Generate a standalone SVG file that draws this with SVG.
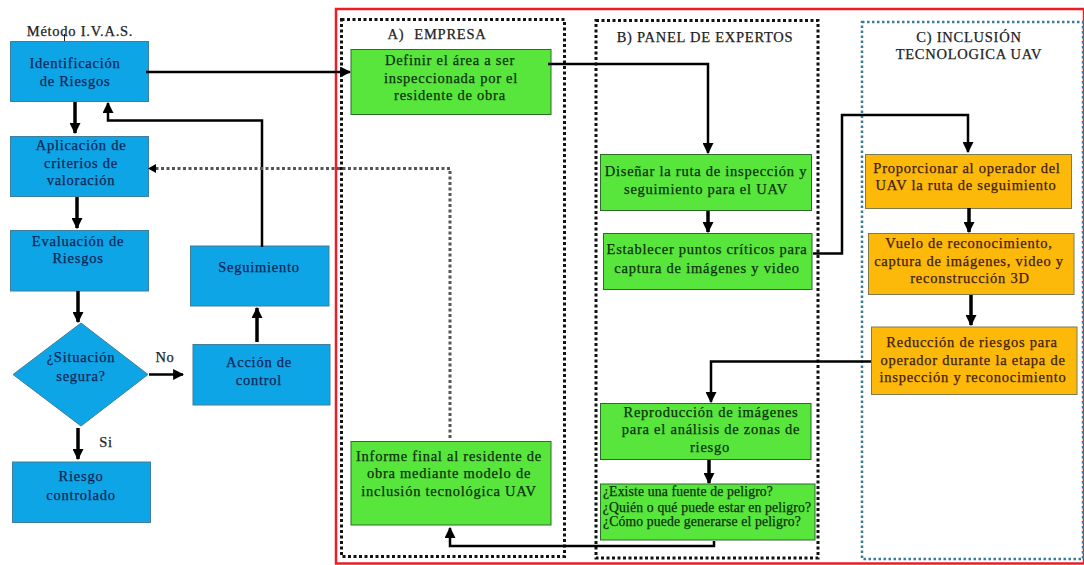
<svg xmlns="http://www.w3.org/2000/svg" width="1084" height="565" viewBox="0 0 1084 565">
<style>
text{font-family:"Liberation Serif","Times New Roman",serif;font-size:14.500px;text-anchor:middle;letter-spacing:.75px;stroke-width:.25px}
.blue rect,.blue polygon{fill:#0ea5e6;stroke:#3f7f9c;stroke-width:1}
.blue text{fill:#0c2558;stroke:#0c2558}
.green rect{fill:#58e63c;stroke:#2e6b2a;stroke-width:1}
.green text{fill:#0c300c;stroke:#0c300c}
.orange rect{fill:#fdb90a;stroke:#7c7c50;stroke-width:1}
.orange text{fill:#40200a;stroke:#40200a}
.label{fill:#222;stroke:#222}
.c{fill:none;stroke:#000;stroke-width:2.500}
.t{stroke-width:3.500}
.dot{fill:none;stroke:#111;stroke-width:3;stroke-dasharray:3 2.500}
.small{font-size:13.700px;letter-spacing:.15px}
</style>
<defs>
<marker id="a" viewBox="0 0 10 10" refX="9" refY="5" markerWidth="11" markerHeight="11" markerUnits="userSpaceOnUse" orient="auto"><path d="M0 0L10 5L0 10Z" fill="#000"/></marker>
</defs>
<rect width="1084" height="565" fill="#fff"/>
<g id="frames">
<rect x="336" y="9" width="748" height="554.500" fill="none" stroke="#ee1c25" stroke-width="2.500"/>
<rect class="dot" x="341.500" y="19.500" width="223" height="537"/>
<rect class="dot" x="596" y="20.500" width="222" height="537.500"/>
<rect x="862" y="22" width="221" height="537" fill="none" stroke="#3a7c9a" stroke-width="2.500" stroke-dasharray="2.500 2.500"/>
</g>
<g id="title"><text class="label" x="80" y="36">Método I.V.A.S.</text><path d="M64.500 34V41" stroke="#222" fill="none"/></g>
<g id="n1" class="blue"><rect x="10.500" y="41.500" width="138" height="60"/><text x="75" y="68">Identificación</text><text x="75" y="86">de Riesgos</text></g>
<g id="n2" class="blue"><rect x="10.500" y="136.500" width="138" height="60"/><text x="81" y="150">Aplicación de</text><text x="81" y="168">criterios de</text><text x="81" y="185">valoración</text></g>
<g id="n3" class="blue"><rect x="10.500" y="230.500" width="138" height="60.500"/><text x="78" y="246">Evaluación de</text><text x="78" y="263">Riesgos</text></g>
<g id="n4" class="blue"><polygon points="13,374.500 81,323 148,374.500 81,426"/><text x="81" y="362">¿Situación</text><text x="81" y="381">segura?</text></g>
<g id="n5" class="blue"><rect x="12.500" y="462" width="138" height="60.500"/><text x="81" y="481">Riesgo</text><text x="81" y="500">controlado</text></g>
<g id="n6" class="blue"><rect x="190.500" y="246" width="138.500" height="60"/><text x="259" y="272">Seguimiento</text></g>
<g id="n7" class="blue"><rect x="193" y="344.500" width="137" height="60.500"/><text x="259" y="367">Acción de</text><text x="259" y="385">control</text></g>
<g id="lbls"><text class="label" x="165" y="362">No</text><text class="label" x="106" y="447">Si</text><text class="label" x="437" y="39">A)<tspan dx="10">EMPRESA</tspan></text><text class="label" x="705" y="42">B) PANEL DE EXPERTOS</text><text class="label" x="969" y="42">C) INCLUSIÓN</text><text class="label" x="969" y="59">TECNOLOGICA UAV</text></g>
<g id="g1" class="green"><rect x="351" y="49.500" width="200" height="65"/><text x="450" y="65">Definir el área a ser</text><text x="451" y="83">inspeccionada por el</text><text x="450" y="100">residente de obra</text></g>
<g id="g2" class="green"><rect x="600.500" y="154.500" width="211" height="56"/><text x="706" y="176">Diseñar la ruta de inspección y</text><text x="706" y="194">seguimiento para el UAV</text></g>
<g id="g3" class="green"><rect x="603.500" y="233.500" width="208.500" height="56"/><text x="707" y="254">Establecer puntos críticos para</text><text x="707" y="273">captura de imágenes y video</text></g>
<g id="g4" class="green"><rect x="600.500" y="403.500" width="210.500" height="56"/><text x="711" y="417">Reproducción de imágenes</text><text x="711" y="434">para el análisis de zonas de</text><text x="710" y="452">riesgo</text></g>
<g id="g5" class="green"><rect x="600.500" y="484" width="214.500" height="56"/><text class="small" x="688" y="496">¿Existe una fuente de peligro?</text><text class="small" x="707" y="512">¿Quién o qué puede estar en peligro?</text><text class="small" x="702" y="526">¿Cómo puede generarse el peligro?</text></g>
<g id="g6" class="green"><rect x="351" y="441.500" width="200" height="83.500"/><text x="449" y="461">Informe final al residente de</text><text x="449" y="478">obra mediante modelo de</text><text x="449" y="496">inclusión tecnológica UAV</text></g>
<g id="o1" class="orange"><rect x="865.500" y="154.500" width="206" height="54"/><text x="967" y="173">Proporcionar al operador del</text><text x="966" y="190">UAV la ruta de seguimiento</text></g>
<g id="o2" class="orange"><rect x="868.500" y="233.500" width="205.500" height="61"/><text x="969" y="248">Vuelo de reconocimiento,</text><text x="969" y="266">captura de imágenes, video y</text><text x="970" y="283">reconstrucción 3D</text></g>
<g id="o3" class="orange"><rect x="871.500" y="327" width="205.500" height="67.500"/><text x="972" y="347">Reducción de riesgos para</text><text x="973" y="365">operador durante la etapa de</text><text x="973" y="382">inspección y reconocimiento</text></g>
<g id="connectors">
<path class="c" d="M146 72H350" marker-end="url(#a)"/>
<path class="c t" d="M75 102V133" marker-end="url(#a)"/>
<path class="c t" d="M77 197V228" marker-end="url(#a)"/>
<path class="c t" d="M78 291V322" marker-end="url(#a)"/>
<path class="c t" d="M78 428V459" marker-end="url(#a)"/>
<path class="c" d="M149 374.500H183" marker-end="url(#a)"/>
<path class="c t" d="M257 342V308" marker-end="url(#a)"/>
<path class="c" d="M262 247V120.500H108V103" marker-end="url(#a)"/>
<path d="M450 438V168.500H150" fill="none" stroke="#555" stroke-width="3" stroke-dasharray="3 2.500"/>
<path d="M156 164L148 168.500L156 173Z" fill="#000"/>
<path class="c" d="M548 64H708V153" marker-end="url(#a)"/>
<path class="c t" d="M708 211V232" marker-end="url(#a)"/>
<path class="c" d="M813 253.500H842V115H968V152" marker-end="url(#a)"/>
<path class="c t" d="M969 208V232" marker-end="url(#a)"/>
<path class="c t" d="M971 295V325" marker-end="url(#a)"/>
<path class="c" d="M871 361.500H711V402" marker-end="url(#a)"/>
<path class="c t" d="M709 460V483" marker-end="url(#a)"/>
<path class="c" d="M714 541V546H450V528" marker-end="url(#a)"/>
</g>
</svg>
